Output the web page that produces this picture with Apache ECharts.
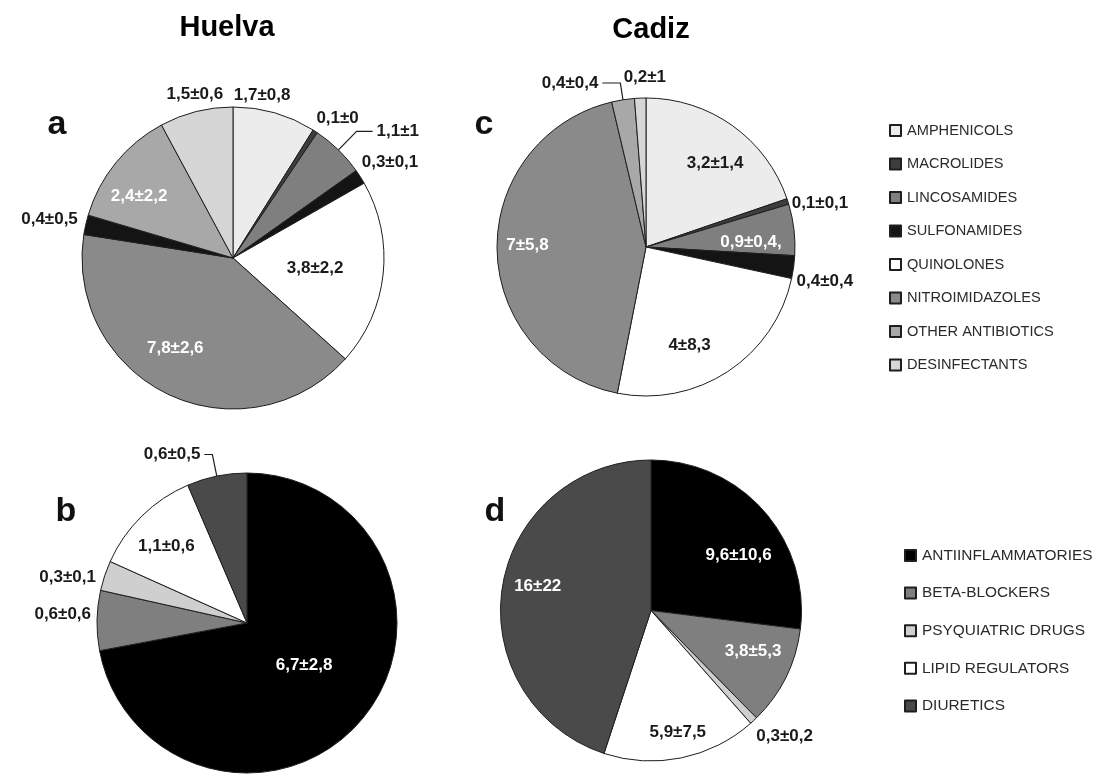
<!DOCTYPE html>
<html>
<head>
<meta charset="utf-8">
<script src="https://cdn.jsdelivr.net/npm/echarts@6/dist/echarts.min.js"></script>
<style>
  html, body { margin: 0; padding: 0; background: #ffffff; }
  #chart { width: 1097px; height: 776px; }
</style>
</head>
<body>
<div id="chart"></div>
<script>
// ---- Categories -------------------------------------------------------
const antibioticClasses = ['AMPHENICOLS', 'MACROLIDES', 'LINCOSAMIDES', 'SULFONAMIDES',
  'QUINOLONES', 'NITROIMIDAZOLES', 'OTHER ANTIBIOTICS', 'DESINFECTANTS'];
const drugClasses = ['ANTIINFLAMMATORIES', 'BETA-BLOCKERS', 'PSYQUIATRIC DRUGS',
  'LIPID REGULATORS', 'DIURETICS'];

// ---- a: Huelva, antibiotics (slices clockwise from 12 o'clock) ---------
const huelvaAbClass = ['AMPHENICOLS', 'MACROLIDES', 'LINCOSAMIDES', 'SULFONAMIDES',
  'QUINOLONES', 'NITROIMIDAZOLES', 'SULFONAMIDES', 'OTHER ANTIBIOTICS', 'DESINFECTANTS'];
const huelvaAbMean = [1.7, 0.1, 1.1, 0.3, 3.8, 7.8, 0.4, 2.4, 1.5];
const huelvaAbSd = ['0,8', '0', '1', '0,1', '2,2', '2,6', '0,5', '2,2', '0,6'];

// ---- c: Cadiz, antibiotics --------------------------------------------
const cadizAbClass = ['AMPHENICOLS', 'MACROLIDES', 'LINCOSAMIDES', 'SULFONAMIDES',
  'QUINOLONES', 'NITROIMIDAZOLES', 'OTHER ANTIBIOTICS', 'DESINFECTANTS'];
const cadizAbMean = [3.2, 0.1, 0.9, 0.4, 4, 7, 0.4, 0.2];
const cadizAbSd = ['1,4', '0,1', '0,4,', '0,4', '8,3', '5,8', '0,4', '1'];

// ---- b: Huelva, other pharmaceuticals ---------------------------------
const huelvaDrClass = ['ANTIINFLAMMATORIES', 'BETA-BLOCKERS', 'PSYQUIATRIC DRUGS',
  'LIPID REGULATORS', 'DIURETICS'];
const huelvaDrMean = [6.7, 0.6, 0.3, 1.1, 0.6];
const huelvaDrSd = ['2,8', '0,6', '0,1', '0,6', '0,5'];

// ---- d: Cadiz, other pharmaceuticals ----------------------------------
const cadizDrClass = ['ANTIINFLAMMATORIES', 'BETA-BLOCKERS', 'PSYQUIATRIC DRUGS',
  'LIPID REGULATORS', 'DIURETICS'];
const cadizDrMean = [9.6, 3.8, 0.3, 5.9, 16];
const cadizDrSd = ['10,6', '5,3', '0,2', '7,5', '22'];

// ---- Styling ----------------------------------------------------------
const FONT = '"Liberation Sans", Arial, sans-serif';
const classColor = {
  'AMPHENICOLS': '#ececec',
  'MACROLIDES': '#3d3d3d',
  'LINCOSAMIDES': '#7f7f7f',
  'SULFONAMIDES': '#141414',
  'QUINOLONES': '#ffffff',
  'NITROIMIDAZOLES': '#8a8a8a',
  'OTHER ANTIBIOTICS': '#a8a8a8',
  'DESINFECTANTS': '#d6d6d6',
  'ANTIINFLAMMATORIES': '#000000',
  'BETA-BLOCKERS': '#7f7f7f',
  'PSYQUIATRIC DRUGS': '#cfcfcf',
  'LIPID REGULATORS': '#ffffff',
  'DIURETICS': '#4a4a4a'
};

// label placement per slice: 'in' = inside, 'out' = beside the rim, 'line' = with leader line
// [mode, text colour, dx, dy, leaderLength, leaderLength2]
const labelsA = [
  ['out', '#1a1a1a', -46, -14], ['out', '#1a1a1a', -5, -10],
  ['line', '#1a1a1a', 0, 0, 26, 16], ['out', '#1a1a1a', -6, -12],
  ['in', '#1a1a1a', 4, 2], ['in', '#ffffff', -24, 19],
  ['out', '#1a1a1a', 0, -5], ['in', '#ffffff', -33, -12],
  ['out', '#1a1a1a', 32, -13]
];
const labelsC = [
  ['in', '#1a1a1a', 24, -21], ['out', '#1a1a1a', -4, 3],
  ['in', '#ffffff', 28, 4], ['out', '#1a1a1a', -5, 14],
  ['in', '#1a1a1a', 1, 34], ['in', '#ffffff', -41, -3],
  ['line', '#1a1a1a', 0, 0, 17, 18], ['out', '#1a1a1a', 30, -17]
];
const labelsB = [
  ['in', '#ffffff', -3, -7], ['out', '#1a1a1a', 2, -6],
  ['out', '#1a1a1a', -1, 3], ['in', '#1a1a1a', -26, -21],
  ['line', '#1a1a1a', 0, 0, 22, 8]
];
const labelsD = [
  ['in', '#ffffff', 29, -3], ['in', '#ffffff', 32, 6],
  ['out', '#1a1a1a', -4, 13], ['in', '#1a1a1a', 11, 45],
  ['in', '#ffffff', -36, -12]
];

const fmt = v => String(v).replace('.', ',');

function buildItems(names, means, sds, labels) {
  return names.map((name, i) => {
    const [mode, color, , , len1, len2] = labels[i];
    return {
      name: name,
      value: means[i],
      sd: sds[i],
      itemStyle: { color: classColor[name] },
      label: {
        position: mode === 'in' ? 'inside' : 'outside',
        color: color
      },
      labelLine: {
        show: mode === 'line',
        length: mode === 'line' ? len1 : 4,
        length2: mode === 'line' ? len2 : 0
      }
    };
  });
}

function pieSeries(center, radius, names, means, sds, labels) {
  return {
    type: 'pie',
    center: center,
    radius: radius,
    startAngle: 90,
    clockwise: true,
    avoidLabelOverlap: false,
    animation: false,
    silent: true,
    itemStyle: { borderColor: '#1e1e1e', borderWidth: 1 },
    label: {
      show: true,
      fontFamily: FONT,
      fontWeight: 'bold',
      fontSize: 17,
      distanceToLabelLine: 4,
      formatter: p => fmt(p.value) + '\u00b1' + p.data.sd
    },
    labelLine: { lineStyle: { color: '#1e1e1e', width: 1.2 }, smooth: false },
    labelLayout: p => ({ dx: labels[p.dataIndex][2], dy: labels[p.dataIndex][3] }),
    emphasis: { disabled: true },
    data: buildItems(names, means, sds, labels)
  };
}

const headings = [
  { text: 'Huelva', x: 227, y: 28, size: 29 },
  { text: 'Cadiz', x: 651, y: 30, size: 29 }
];
const panelLetters = [
  { text: 'a', x: 57, y: 108 }, { text: 'c', x: 484, y: 108 },
  { text: 'b', x: 66, y: 495 }, { text: 'd', x: 495, y: 495 }
];

const chart = echarts.init(document.getElementById('chart'), null, { renderer: 'canvas' });

chart.setOption({
  backgroundColor: '#ffffff',
  animation: false,
  legend: [
    {
      data: antibioticClasses,
      orient: 'vertical',
      left: 889, top: 123,
      padding: 0,
      icon: 'rect',
      itemWidth: 11, itemHeight: 11, itemGap: 18.5,
      selectedMode: false,
      textStyle: { fontFamily: FONT, fontSize: 14.6, color: '#2a2a2a', padding: [0, 0, 0, 1] }
    },
    {
      data: drugClasses,
      orient: 'vertical',
      left: 904, top: 548,
      padding: 0,
      icon: 'rect',
      itemWidth: 11, itemHeight: 11, itemGap: 22.6,
      selectedMode: false,
      textStyle: { fontFamily: FONT, fontSize: 15.4, color: '#2a2a2a', padding: [0, 0, 0, 1] }
    }
  ],
  graphic: [
    ...headings.map(h => ({
      type: 'text', x: h.x, y: h.y, silent: true,
      style: { text: h.text, font: 'bold ' + h.size + 'px ' + FONT, fill: '#000',
        align: 'center', verticalAlign: 'middle' }
    })),
    ...panelLetters.map(l => ({
      type: 'text', x: l.x, y: l.y, silent: true,
      style: { text: l.text, font: 'bold 34px ' + FONT, fill: '#111',
        align: 'center', verticalAlign: 'alphabetic' }
    }))
  ],
  series: [
    pieSeries([233, 258], 151, huelvaAbClass, huelvaAbMean, huelvaAbSd, labelsA),
    pieSeries([646, 247], 149, cadizAbClass, cadizAbMean, cadizAbSd, labelsC),
    pieSeries([247, 623], 150, huelvaDrClass, huelvaDrMean, huelvaDrSd, labelsB),
    pieSeries([651, 610.5], 150.5, cadizDrClass, cadizDrMean, cadizDrSd, labelsD)
  ]
});
</script>
</body>
</html>
